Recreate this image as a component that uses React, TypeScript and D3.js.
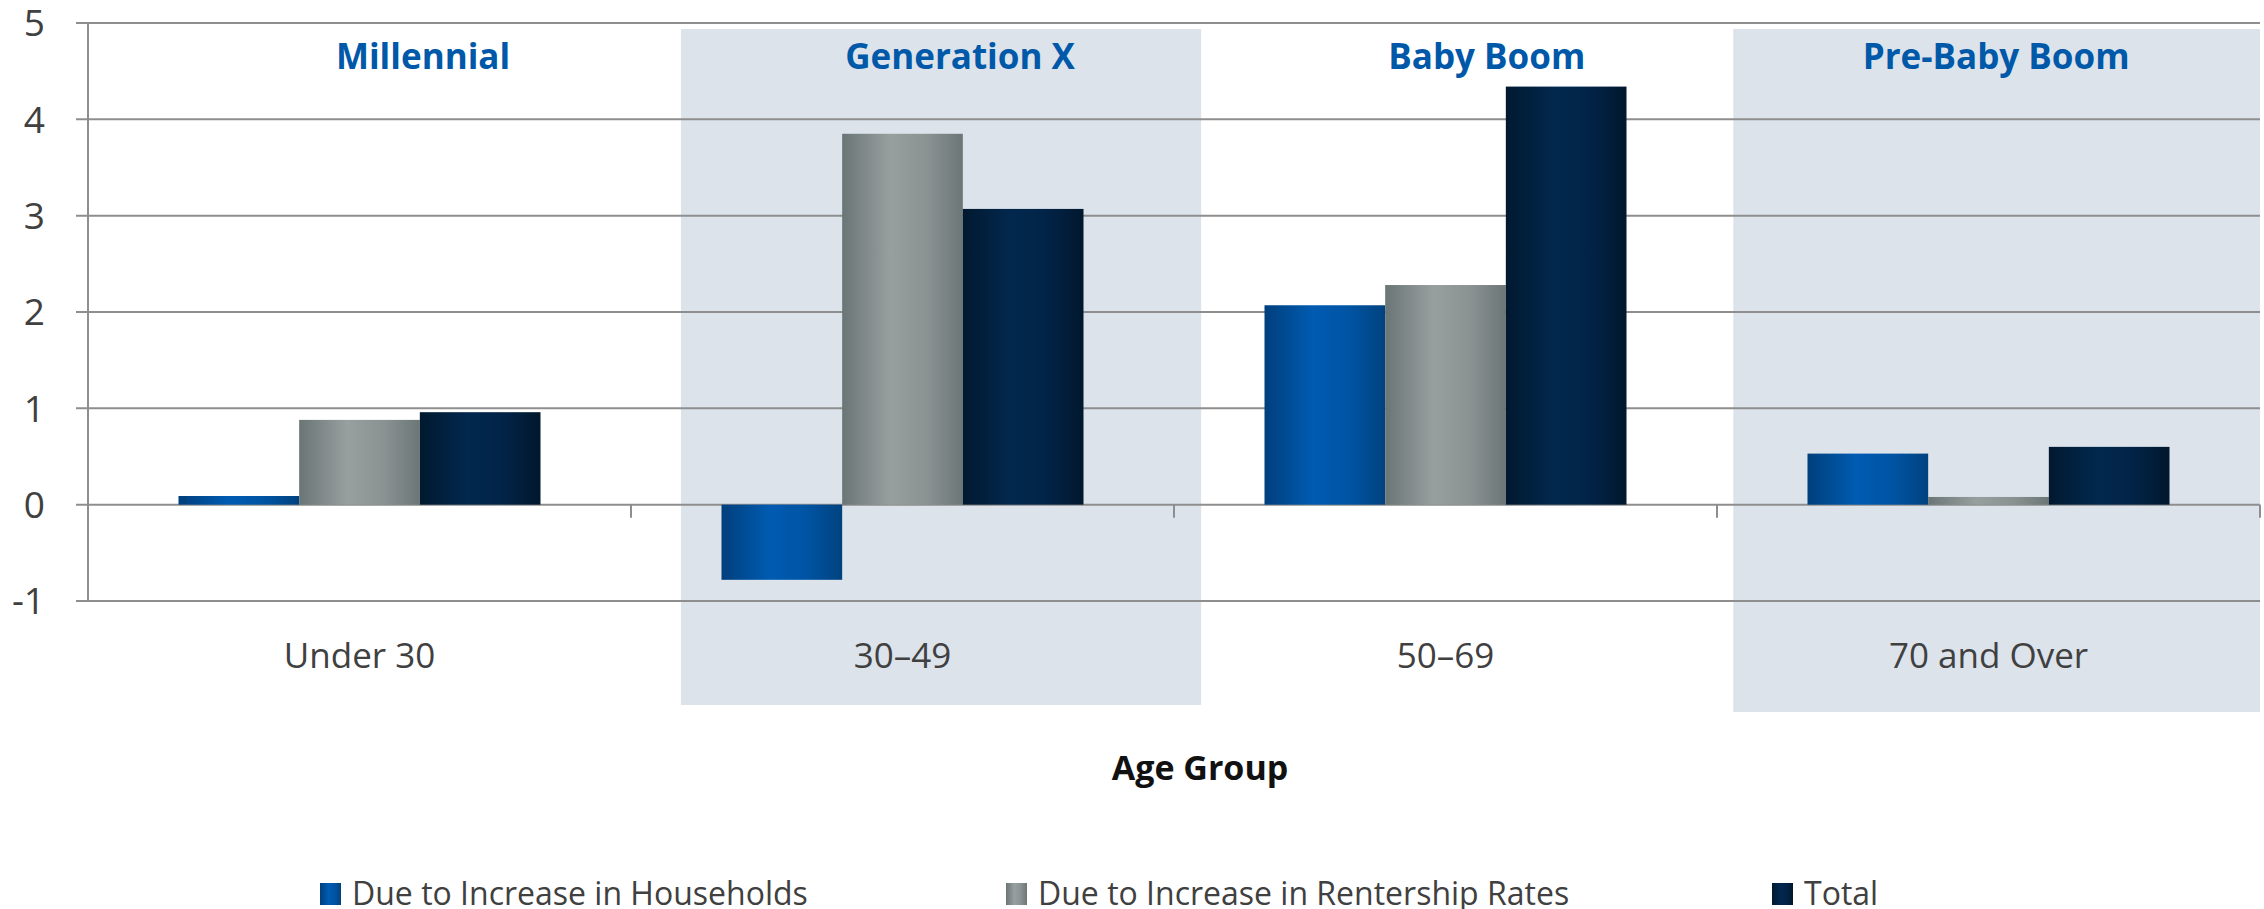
import React from 'react';
import * as d3 from 'd3';

const ageGroups = ['Under 30', '30–49', '50–69', '70 and Over'];
const seriesNames = ['Due to Increase in Households', 'Due to Increase in Rentership Rates', 'Total'];
const households = [0.09, -0.78, 2.07, 0.53];
const rentership = [0.88, 3.85, 2.28, 0.08];
const total = [0.96, 3.07, 4.34, 0.6];
const yTicks = [-1, 0, 1, 2, 3, 4, 5];

// generation annotations, positions in category units (0..4)
const generations = ['Millennial', 'Generation X', 'Baby Boom', 'Pre-Baby Boom'];
const generationLabelAt = [0.617, 1.606, 2.576, 3.514];
const shadedSpans = [[1.092, 2.05], [3.03, 4.0]];

const W = 2264;
const H = 909;
const FONT = '"Open Sans", "DejaVu Sans", sans-serif';

const gradients = [
  { id: 'g-blue', stops: ['#003f7c', '#005bb1', '#0054a4', '#00427f'] },
  { id: 'g-gray', stops: ['#6a7576', '#97a09e', '#8a9392', '#6c7676'] },
  { id: 'g-navy', stops: ['#01192f', '#02284e', '#022347', '#01182d'] },
];

export default function App() {
  const left = 88;
  const right = 2260;

  const x = d3.scaleBand<string>().domain(ageGroups).range([left, right]).padding(0);
  const xs = d3.scaleBand<number>().domain([0, 1, 2]).range([0, x.bandwidth()]).paddingInner(0).paddingOuter(0.75);
  const cu = d3.scaleLinear().domain([0, ageGroups.length]).range([left, right]);
  const y = d3.scaleLinear().domain([-1, 5]).range([601, 23]);

  const series = [households, rentership, total];

  return (
    <svg width={W} height={H} style={{ position: 'absolute', left: 0, top: 0, background: '#fff' }} fontFamily={FONT}>
      <defs>
        {gradients.map(g => (
          <linearGradient key={g.id} id={g.id} x1="0" x2="1" y1="0" y2="0">
            <stop offset="0%" stopColor={g.stops[0]} />
            <stop offset="40%" stopColor={g.stops[1]} />
            <stop offset="70%" stopColor={g.stops[2]} />
            <stop offset="100%" stopColor={g.stops[3]} />
          </linearGradient>
        ))}
      </defs>

      {/* shaded generation bands */}
      {shadedSpans.map((s, i) => (
        <rect key={i} x={cu(s[0])} y={29} width={cu(s[1]) - cu(s[0])} height={i === 0 ? 676 : 683} fill="#dce3eb" />
      ))}

      {/* gridlines */}
      {yTicks.map(t => (
        <line key={t} x1={left - 12} x2={right} y1={y(t)} y2={y(t)} stroke="#8e8e8e" strokeWidth={2} />
      ))}
      <line x1={left} x2={left} y1={y(5)} y2={y(-1)} stroke="#8e8e8e" strokeWidth={2} />
      {/* category ticks on zero line */}
      {d3.range(ageGroups.length + 1).map(i => (
        <line key={i} x1={cu(i)} x2={cu(i)} y1={y(0)} y2={y(0) + 13} stroke="#8e8e8e" strokeWidth={2} />
      ))}

      {/* bars */}
      {series.map((vals, si) =>
        vals.map((v, ci) => (
          <rect
            key={`${si}-${ci}`}
            x={(x(ageGroups[ci]) as number) + (xs(si) as number)}
            y={y(Math.max(0, v))}
            width={xs.bandwidth()}
            height={Math.abs(y(v) - y(0))}
            fill={`url(#${gradients[si].id})`}
          />
        ))
      )}

      {/* y tick labels */}
      {yTicks.map(t => (
        <text key={t} x={45} y={y(t)} dy="0.36em" textAnchor="end" fontSize={37} fill="#404040">{t}</text>
      ))}

      {/* category labels */}
      {ageGroups.map(g => (
        <text key={g} x={(x(g) as number) + x.bandwidth() / 2} y={668} textAnchor="middle" fontSize={35} fill="#404040">{g}</text>
      ))}

      {/* generation labels */}
      {generations.map((g, i) => (
        <text key={g} x={cu(generationLabelAt[i])} y={69} textAnchor="middle" fontSize={35} fontWeight="bold" fill="#0058a9">{g}</text>
      ))}

      <text x={1200} y={780} textAnchor="middle" fontSize={34} fontWeight="bold" fill="#111">Age Group</text>

      {/* legend */}
      {seriesNames.map((n, i) => {
        const lx = [320, 1006, 1772][i];
        return (
          <g key={n}>
            <rect x={lx} y={883} width={21} height={22} fill={`url(#${gradients[i].id})`} />
            <text x={lx + 32} y={905} fontSize={32} fill="#404040">{n}</text>
          </g>
        );
      })}
    </svg>
  );
}
